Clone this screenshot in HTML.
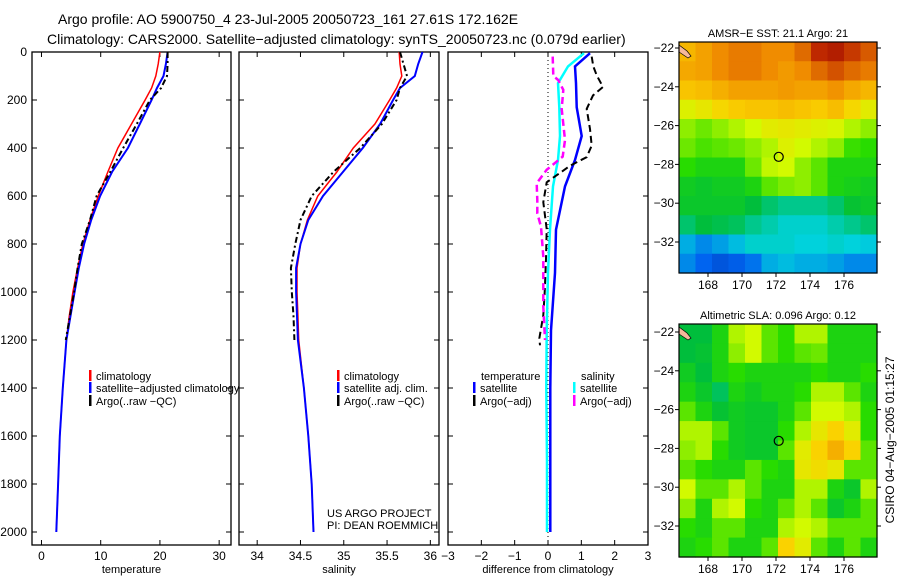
<!DOCTYPE html>
<html><head><meta charset="utf-8"><style>
body{margin:0;background:#fff;width:900px;height:580px;overflow:hidden}
svg{display:block;font-family:"Liberation Sans",sans-serif}
</style></head><body>
<svg id="fig" width="900" height="580" viewBox="0 0 900 580">
<text x="58" y="24" font-size="14">Argo profile: AO 5900750_4 23-Jul-2005 20050723_161 27.61S 172.162E</text>
<text x="47" y="44" font-size="14">Climatology: CARS2000. Satellite−adjusted climatology: synTS_20050723.nc (0.079d earlier)</text>
<g id="g"></g>
</svg>
<script>
// ---- data ----
const tDepth=[0,50,100,150,200,300,400,500,600,700,800,900,1000,1100,1200,1400,1600,1800,2000];
const tClim=[20.0,19.7,19.3,18.6,17.5,15.2,12.9,11.2,9.6,8.2,7.0,6.1,5.3,4.7,4.2,3.6,3.1,2.8,2.5];
const tSat=[21.3,21.0,20.6,19.5,18.6,16.6,14.6,11.9,9.9,8.4,7.2,6.3,5.6,4.9,4.2,3.6,3.1,2.8,2.5];
const aDepth=[0,50,100,150,200,300,400,500,600,700,800,900,1000,1100,1200];
const tArgo=[21.3,21.3,21.2,20.2,18.3,16.1,13.8,11.6,9.3,8.2,6.8,6.1,5.5,4.8,4.1];
const sClim=[35.64,35.65,35.67,35.61,35.53,35.36,35.11,34.92,34.70,34.58,34.50,34.46,34.46,34.47,34.48,34.54,34.59,34.63,34.65];
const sSat=[35.91,35.86,35.82,35.65,35.57,35.42,35.22,34.99,34.76,34.59,34.50,34.45,34.45,34.46,34.47,34.54,34.59,34.63,34.65];
const sArgo=[35.65,35.69,35.73,35.65,35.61,35.44,35.19,34.88,34.63,34.50,34.44,34.39,34.40,34.42,34.43];
const dDepth=[5,60,130,230,350,450,560,740,920,1160,1400,1700,2000];
const dTsat=[1.26,0.81,0.84,0.86,1.01,0.81,0.51,0.24,0.21,0.09,0.07,0.07,0.07];
const dSsat=[1.08,0.6,0.3,0.34,0.36,0.3,0.15,0.06,0.0,-0.04,-0.05,-0.03,-0.03];
const dADepth=[19,60,97,146,181,237,321,390,438,474,543,626,738,863,1000,1097,1194,1222];
const dTargo=[1.31,1.36,1.46,1.65,1.35,1.16,1.26,1.31,1.16,0.66,-0.04,-0.14,-0.04,-0.06,-0.1,-0.14,-0.26,-0.24];
const dMDepth=[19,100,117,158,237,367,436,491,547,617,672,728,853,1061,1200];
const dSargo=[0.14,0.16,0.31,0.46,0.41,0.51,0.44,-0.04,-0.34,-0.32,-0.32,-0.21,-0.14,-0.14,-0.09];
const depthTicks=[0,200,400,600,800,1000,1200,1400,1600,1800,2000];
const tTicks=[0,10,20,30];
const sTicks=[34,34.5,35,35.5,36];
const dTicks=[-3,-2,-1,0,1,2,3];
const sstGrid=[
[0.74,0.77,0.8,0.82,0.82,0.8,0.8,0.84,0.92,0.94,0.9,0.86],
[0.76,0.77,0.8,0.82,0.82,0.8,0.78,0.8,0.84,0.87,0.84,0.82],
[0.72,0.73,0.75,0.77,0.77,0.77,0.78,0.77,0.77,0.79,0.76,0.74],
[0.64,0.66,0.69,0.71,0.72,0.72,0.73,0.72,0.71,0.73,0.69,0.65],
[0.58,0.56,0.58,0.6,0.62,0.65,0.66,0.65,0.64,0.63,0.6,0.58],
[0.56,0.54,0.55,0.56,0.58,0.6,0.64,0.62,0.6,0.58,0.53,0.52],
[0.52,0.5,0.5,0.5,0.56,0.61,0.62,0.58,0.55,0.5,0.5,0.5],
[0.48,0.47,0.48,0.48,0.5,0.55,0.57,0.58,0.55,0.5,0.49,0.48],
[0.47,0.47,0.47,0.47,0.45,0.42,0.4,0.4,0.4,0.42,0.46,0.47],
[0.42,0.45,0.44,0.43,0.4,0.38,0.36,0.36,0.36,0.38,0.4,0.42],
[0.3,0.25,0.28,0.32,0.36,0.36,0.36,0.35,0.35,0.36,0.35,0.34],
[0.25,0.2,0.15,0.18,0.22,0.3,0.32,0.3,0.3,0.28,0.25,0.25]];
const slaGrid=[
[0.45,0.45,0.5,0.6,0.62,0.55,0.52,0.6,0.6,0.5,0.5,0.5],
[0.45,0.46,0.5,0.58,0.62,0.55,0.52,0.55,0.56,0.5,0.5,0.5],
[0.48,0.45,0.5,0.52,0.5,0.5,0.5,0.5,0.52,0.5,0.5,0.52],
[0.5,0.47,0.43,0.5,0.48,0.5,0.5,0.52,0.6,0.6,0.55,0.5],
[0.55,0.5,0.46,0.48,0.47,0.47,0.5,0.55,0.62,0.62,0.6,0.52],
[0.6,0.6,0.55,0.48,0.47,0.47,0.52,0.6,0.66,0.7,0.65,0.52],
[0.58,0.6,0.52,0.48,0.47,0.47,0.55,0.65,0.7,0.75,0.7,0.55],
[0.55,0.52,0.5,0.5,0.55,0.52,0.5,0.66,0.68,0.66,0.55,0.55],
[0.62,0.55,0.55,0.6,0.55,0.5,0.5,0.6,0.6,0.5,0.47,0.6],
[0.58,0.5,0.6,0.62,0.52,0.5,0.55,0.6,0.55,0.47,0.5,0.55],
[0.52,0.5,0.55,0.55,0.5,0.5,0.6,0.62,0.6,0.55,0.55,0.55],
[0.5,0.52,0.55,0.5,0.5,0.55,0.7,0.65,0.55,0.5,0.55,0.5]];
const lonTicks=[168,170,172,174,176];
const latTicks=[-22,-24,-26,-28,-30,-32];
const argoLon=172.16, argoLat=-27.61;

const NS="http://www.w3.org/2000/svg";
const G=document.getElementById('g');
function mk(tag,attrs,parent){const e=document.createElementNS(NS,tag);for(const k in attrs)e.setAttribute(k,attrs[k]);(parent||G).appendChild(e);return e;}
function txt(x,y,s,size,anchor,parent){const e=mk('text',{x:x,y:y,'font-size':size,'text-anchor':anchor||'start'},parent);e.textContent=s;return e;}

const Y0=52,Y1=545;
const yD=d=>Y0+d*0.24;
function panel(name,x0,x1,xmin,xmax,ticks,fmt,title,showY){
  const g=mk('g',{});
  
  
  const sx=v=>x0+(v-xmin)/(xmax-xmin)*(x1-x0);
  const fr=mk('rect',{x:x0,y:Y0,width:x1-x0,height:Y1-Y0,fill:'none',stroke:'#000','stroke-width':1.3},g);
  
  
  ticks.forEach(t=>{const x=sx(t);
    mk('line',{x1:x,x2:x,y1:Y0,y2:Y0+5,stroke:'#000'},g);
    mk('line',{x1:x,x2:x,y1:Y1,y2:Y1-5,stroke:'#000'},g);
    const l=txt(x,560,fmt(t),12,'middle',g);
    
    
  });
  depthTicks.forEach(d=>{const y=yD(d);
    mk('line',{x1:x0,x2:x0+5,y1:y,y2:y,stroke:'#000'},g);
    mk('line',{x1:x1,x2:x1-5,y1:y,y2:y,stroke:'#000'},g);
    if(showY){const l=txt(x0-5,y+4,String(d),12,'end',g);
      
      }
  });
  const at=txt((x0+x1)/2,573,title,11,'middle',g);
  
  
  return {g,sx};
}
function line(p,xs,ds,color,w,dash,name){
  const pts=xs.map((v,i)=>p.sx(v).toFixed(1)+','+yD(ds[i]).toFixed(1)).join(' ');
  const a={points:pts,fill:'none',stroke:color,'stroke-width':w};
  if(dash)a['stroke-dasharray']=dash;
  const e=mk('polyline',a,p.g);
  
  
}
function legend(g,x,y,color,label,name){
  mk('rect',{x:x,y:y-6,width:2.5,height:11,fill:color},g);
  const t=txt(x+7,y+4,label,11,'start',g);
  
  
}
// panel 1
const p1=panel('temperature-panel',32,231,-1.6,32,tTicks,String,'temperature',true);
line(p1,tClim,tDepth,'#f00',1.5,null,'temp-climatology-line');
line(p1,tSat,tDepth,'#00f',2,null,'temp-satellite-line');
line(p1,tArgo,aDepth,'#000',2,'6,3,2,3','temp-argo-line');
legend(p1.g,89,376,'#f00','climatology','legend-climatology');
legend(p1.g,89,388,'#00f','satellite−adjusted climatology','legend-satellite');
legend(p1.g,89,401,'#000','Argo(..raw −QC)','legend-argo');
// panel 2
const p2=panel('salinity-panel',239,439,33.79,36.1,sTicks,String,'salinity',false);
line(p2,sClim,tDepth,'#f00',1.5,null,'sal-climatology-line');
line(p2,sSat,tDepth,'#00f',2,null,'sal-satellite-line');
line(p2,sArgo,aDepth,'#000',2,'6,3,2,3','sal-argo-line');
legend(p2.g,337,376,'#f00','climatology','legend-climatology');
legend(p2.g,337,388,'#00f','satellite adj. clim.','legend-satellite');
legend(p2.g,337,401,'#000','Argo(..raw −QC)','legend-argo');
const c1=txt(327,517,'US ARGO PROJECT',11,'start',p2.g);


const c2=txt(327,529,'PI: DEAN ROEMMICH',11,'start',p2.g);


// panel 3
const p3=panel('difference-panel',448,648,-3,3,dTicks,v=>v<0?'−'+(-v):String(v),'difference from climatology',false);
mk('line',{x1:p3.sx(0),x2:p3.sx(0),y1:Y0,y2:Y1,stroke:'#000','stroke-dasharray':'1,3'},p3.g);
line(p3,dTsat,dDepth,'#00f',2.5,null,'diff-temp-satellite-line');
line(p3,dSsat,dDepth,'#0ff',2.5,null,'diff-sal-satellite-line');
line(p3,dTargo,dADepth,'#000',2,'7,4','diff-temp-argo-line');
line(p3,dSargo,dMDepth,'#f0f',2.5,'7,4','diff-sal-argo-line');
const lt=txt(481,380,'temperature',11,'start',p3.g);
const ls=txt(581,380,'salinity',11,'start',p3.g);
legend(p3.g,473,388,'#00f','satellite','legend-temp-satellite');
legend(p3.g,473,401,'#000','Argo(−adj)','legend-temp-argo');
legend(p3.g,573,388,'#0ff','satellite','legend-sal-satellite');
legend(p3.g,573,401,'#f0f','Argo(−adj)','legend-sal-argo');

// maps
function jet(v){
  const stops=[[0,[0,40,160]],[0.2,[0,100,240]],[0.35,[0,210,220]],[0.45,[0,190,60]],[0.52,[40,220,0]],[0.62,[210,250,0]],[0.7,[250,210,0]],[0.8,[240,140,0]],[0.92,[190,40,0]],[1,[140,0,0]]];
  for(let i=1;i<stops.length;i++){if(v<=stops[i][0]){const a=stops[i-1],b=stops[i],t=(v-a[0])/(b[0]-a[0]);
    return 'rgb('+a[1].map((c,k)=>Math.round(c+(b[1][k]-c)*t)).join(',')+')';}}
  return 'rgb(140,0,0)';
}
function map(name,top,bottom,grid,title,latAt22,latAt32){
  const g=mk('g',{});
  
  
  const L=679,R=877;
  const sx=lon=>708+(lon-168)*17;
  const sy=lat=>latAt22+(-22-lat)*(latAt32-latAt22)/10;
  const rows=grid.length,cols=grid[0].length,cw=(R-L)/cols,ch=(bottom-top)/rows;
  grid.forEach((row,r)=>row.forEach((v,c)=>{
    const e=mk('rect',{x:(L+c*cw).toFixed(2),y:(top+r*ch).toFixed(2),width:(cw+0.6).toFixed(2),height:(ch+0.6).toFixed(2),fill:jet(v)},g);
    
    
  }));
  mk('path',{d:`M${L} ${top+3} l8 6 l4 5 l-3 2 l-9 -6z`,fill:'#f5b89a',stroke:'#000','stroke-width':0.7},g);
  mk('rect',{x:L,y:top,width:R-L,height:bottom-top,fill:'none',stroke:'#000','stroke-width':1.2},g);
  lonTicks.forEach(lon=>{const x=sx(lon);
    mk('line',{x1:x,x2:x,y1:bottom,y2:bottom+4,stroke:'#000'},g);
    const l=txt(x,bottom+16,String(lon),12,'middle',g);
    
    });
  latTicks.forEach(lat=>{const y=sy(lat);
    mk('line',{x1:L-4,x2:L,y1:y,y2:y,stroke:'#000'},g);
    mk('line',{x1:R,x2:R+4,y1:y,y2:y,stroke:'#000'},g);
    const l=txt(L-5,y+4,'−'+(-lat),12,'end',g);
    
    });
  const c=mk('circle',{cx:sx(argoLon),cy:sy(argoLat),r:4.5,fill:'none',stroke:'#000','stroke-width':1.2},g);
  
  
  const t=txt(778,top-5,title,11,'middle',g);
  
  
}
map('sst-map',42,273,sstGrid,'AMSR−E SST: 21.1 Argo: 21',48,242);
map('sla-map',324,557,slaGrid,'Altimetric SLA: 0.096 Argo: 0.12',332,526);
const st=txt(0,0,'CSIRO 04−Aug−2005 01:15:27',12,'middle');
st.setAttribute('transform','translate(894,440) rotate(-90)');


</script>
</body></html>
